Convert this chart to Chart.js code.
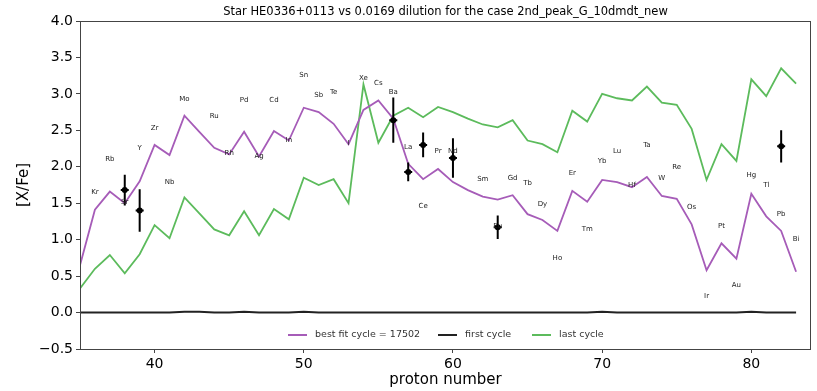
<!DOCTYPE html>
<html>
<head>
<meta charset="utf-8">
<script src="https://cdn.jsdelivr.net/npm/chart.js@4.4.1/dist/chart.umd.min.js"></script>
<style>
  html, body { margin: 0; padding: 0; background: #fff; }
  #wrap { width: 817px; height: 391px; position: relative; }
</style>
</head>
<body>
<div id="wrap"><canvas id="myChart" width="817" height="391"></canvas></div>
<script>
// proton numbers 35..83
const protonNumbers = [35,36,37,38,39,40,41,42,43,44,45,46,47,48,49,50,51,52,53,54,55,56,57,58,59,
  60,61,62,63,64,65,66,67,68,69,70,71,72,73,74,75,76,77,78,79,80,81,82,83];

const bestFit = [0.65,1.41,1.66,1.50,1.80,2.30,2.16,2.70,2.48,2.26,2.17,2.48,2.14,2.49,2.36,2.81,2.75,2.59,2.31,2.78,
  2.91,2.66,2.04,1.83,1.97,1.79,1.68,1.59,1.55,1.61,1.35,1.27,1.12,1.67,1.52,1.82,1.79,1.72,1.86,1.60,
  1.56,1.21,0.58,0.95,0.74,1.63,1.32,1.12,0.56];

const lastCycle = [0.33,0.60,0.79,0.54,0.80,1.20,1.02,1.58,1.36,1.14,1.06,1.39,1.06,1.42,1.28,1.85,1.75,1.83,1.50,3.13,
  2.33,2.70,2.81,2.68,2.82,2.75,2.66,2.58,2.54,2.64,2.36,2.31,2.20,2.77,2.62,3.00,2.94,2.91,3.10,2.88,
  2.85,2.52,1.82,2.31,2.08,3.20,2.97,3.35,3.14];

const firstCycle = [0.00,0.00,0.00,0.00,0.00,0.00,0.00,0.01,0.01,0.00,0.00,0.01,0.00,0.00,0.00,0.01,0.00,0.00,0.00,0.00,
  0.00,0.00,0.00,0.00,0.00,0.00,0.00,0.00,0.00,0.00,0.00,0.00,0.00,0.00,0.00,0.01,0.00,0.00,0.00,0.00,
  0.00,0.00,0.00,0.00,0.00,0.01,0.00,0.00,0.00];

// observed abundances with errors
const obsZ   = [38, 39, 56, 57, 58, 60, 63, 82];
const obsVal = [1.68, 1.40, 2.64, 1.93, 2.30, 2.12, 1.17, 2.28];
const obsErr = [0.21, 0.29, 0.31, 0.13, 0.17, 0.27, 0.16, 0.22];

// element labels: name, Z, y position
const elemNames = ['Kr','Rb','Sr','Y','Zr','Nb','Mo','Ru','Rh','Pd','Ag','Cd','In','Sn','Sb','Te','I','Xe','Cs','Ba',
  'La','Ce','Pr','Nd','Sm','Eu','Gd','Tb','Dy','Ho','Er','Tm','Yb','Lu','Hf','Ta','W','Re','Os','Ir','Pt','Au',
  'Hg','Tl','Pb','Bi'];
const elemZ = [36,37,38,39,40,41,42,44,45,46,47,48,49,50,51,52,53,54,55,56,57,58,59,60,62,63,64,65,66,67,68,69,70,71,
  72,73,74,75,76,77,78,79,80,81,82,83];
const elemY = [1.65,2.10,1.52,2.25,2.53,1.79,2.93,2.69,2.19,2.92,2.14,2.92,2.36,3.25,2.98,3.02,2.33,3.22,3.14,3.02,
  2.27,1.46,2.21,2.22,1.83,1.18,1.84,1.78,1.49,0.75,1.91,1.15,2.07,2.22,1.75,2.29,1.85,1.99,1.44,0.22,1.19,0.37,
  1.88,1.75,1.35,1.00];

const xTicks = [40, 50, 60, 70, 80];
const yTicks = [-0.5, 0, 0.5, 1.0, 1.5, 2.0, 2.5, 3.0, 3.5, 4.0];

const titleText = 'Star HE0336+0113 vs 0.0169 dilution for the case 2nd_peak_G_10dmdt_new';
const FONT = '"DejaVu Sans", sans-serif';

function pts(ys) {
  return protonNumbers.map((z, i) => ({ x: z, y: ys[i] }));
}

const extras = {
  id: 'extras',
  afterDatasetsDraw(chart) {
    const ctx = chart.ctx;
    const xs = chart.scales.x, ys = chart.scales.y;
    const a = chart.chartArea;
    ctx.save();

    // error bars + points
    ctx.strokeStyle = '#000';
    ctx.fillStyle = '#000';
    ctx.lineWidth = 2;
    for (let i = 0; i < obsZ.length; i++) {
      const px = xs.getPixelForValue(obsZ[i]);
      const py = ys.getPixelForValue(obsVal[i]);
      const top = ys.getPixelForValue(obsVal[i] + obsErr[i]);
      const bot = ys.getPixelForValue(obsVal[i] - obsErr[i]);
      ctx.beginPath();
      ctx.moveTo(px, top); ctx.lineTo(px, bot);
      ctx.moveTo(px - 4, py); ctx.lineTo(px + 4, py);
      ctx.stroke();
      ctx.beginPath();
      ctx.arc(px, py, 3, 0, Math.PI * 2);
      ctx.fill();
    }

    // element labels
    ctx.fillStyle = '#222';
    ctx.font = '7px ' + FONT;
    ctx.textAlign = 'center';
    ctx.textBaseline = 'middle';
    elemNames.forEach((n, i) => {
      ctx.fillText(n, xs.getPixelForValue(elemZ[i]), ys.getPixelForValue(elemY[i]));
    });

    // legend
    ctx.font = '9.5px ' + FONT;
    ctx.textAlign = 'left';
    ctx.fillStyle = '#333';
    const ly = 335;
    const items = [
      { label: 'best fit cycle = 17502', color: '#a65cb8', x: 288 },
      { label: 'first cycle', color: '#222', x: 438 },
      { label: 'last cycle', color: '#5cbb5c', x: 532 }
    ];
    items.forEach(it => {
      ctx.strokeStyle = it.color;
      ctx.lineWidth = 2;
      ctx.beginPath();
      ctx.moveTo(it.x, ly); ctx.lineTo(it.x + 19, ly);
      ctx.stroke();
      ctx.fillText(it.label, it.x + 27, ly);
    });

    // frame
    ctx.strokeStyle = '#444';
    ctx.lineWidth = 1;
    ctx.strokeRect(a.left + 0.5, a.top + 0.5, a.right - a.left - 1, a.bottom - a.top);

    // title + axis titles
    ctx.fillStyle = '#000';
    ctx.textAlign = 'center';
    ctx.textBaseline = 'middle';
    ctx.font = '11.5px ' + FONT;
    ctx.fillText(titleText, (a.left + a.right) / 2, 12);
    ctx.font = '15px ' + FONT;
    ctx.fillText('proton number', (a.left + a.right) / 2, 380);
    ctx.translate(24, (a.top + a.bottom) / 2);
    ctx.rotate(-Math.PI / 2);
    ctx.fillText('[X/Fe]', 0, 0);
    ctx.restore();
  }
};

const config = {
  type: 'line',
  data: {
    datasets: [
      { label: 'best fit cycle = 17502', data: pts(bestFit), borderColor: '#a65cb8', borderWidth: 1.8, pointRadius: 0, tension: 0 },
      { label: 'first cycle', data: pts(firstCycle), borderColor: '#222', borderWidth: 2, pointRadius: 0, tension: 0 },
      { label: 'last cycle', data: pts(lastCycle), borderColor: '#5cbb5c', borderWidth: 1.8, pointRadius: 0, tension: 0 }
    ]
  },
  options: {
    responsive: false,
    animation: false,
    events: [],
    layout: { padding: { top: 21, right: 6, left: 0, bottom: 0 } },
    plugins: { legend: { display: false }, title: { display: false }, tooltip: { enabled: false } },
    scales: {
      x: {
        type: 'linear', min: 35, max: 84,
        afterBuildTicks: s => { s.ticks = xTicks.map(v => ({ value: v })); },
        afterFit: s => { s.height = 42; },
        grid: { drawOnChartArea: false, drawTicks: true, tickLength: 4, color: '#444' },
        border: { display: false },
        ticks: { color: '#000', font: { family: FONT, size: 14 }, padding: 3, maxRotation: 0 }
      },
      y: {
        type: 'linear', min: -0.5, max: 4.0,
        afterBuildTicks: s => { s.ticks = yTicks.map(v => ({ value: v })); },
        afterFit: s => { s.width = 80; },
        grid: { drawOnChartArea: false, drawTicks: true, tickLength: 4, color: '#444' },
        border: { display: false },
        ticks: {
          color: '#000', font: { family: FONT, size: 14 }, padding: 3,
          callback: v => (v < 0 ? '\u2212' + Math.abs(v).toFixed(1) : v.toFixed(1))
        }
      }
    }
  },
  plugins: [extras]
};

const myChart = new Chart(document.getElementById('myChart'), config);
</script>
</body>
</html>
